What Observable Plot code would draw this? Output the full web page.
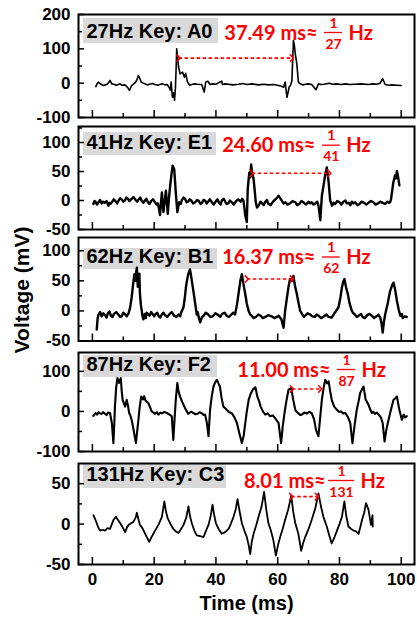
<!DOCTYPE html>
<html><head><meta charset="utf-8">
<script src="https://cdn.jsdelivr.net/npm/d3@7"></script>
<script src="https://cdn.jsdelivr.net/npm/@observablehq/plot@0.6"></script>
<style>
body{margin:0;background:#fff;}
#chart{position:relative;width:417px;height:617px;overflow:hidden;background:#fff;}
#ylab{position:absolute;left:22px;top:290px;transform:translate(-50%,-50%) rotate(-90deg);font:bold 21px "Liberation Sans",Arial,sans-serif;white-space:nowrap;color:#000;}
</style></head><body>
<div id="chart"><div id="ylab">Voltage (mV)</div></div>
<script>
// ---------------- data ----------------
const keyLabels = ["27Hz Key: A0", "41Hz Key: E1", "62Hz Key: B1", "87Hz Key: F2", "131Hz Key: C3"];
const periodTexts = ["37.49 ms≈", "24.60 ms≈", "16.37 ms≈", "11.00 ms≈", "8.01 ms≈"];
const freqs = ["27", "41", "62", "87", "131"];
const arrowFrom = [27.9, 51.6, 50.0, 64.6, 64.4];
const arrowTo = [64.6, 76.7, 64.6, 73.8, 72.7];
const arrowLevel = [73, 47, 53, 56, 34];
const timeMajor = [0, 20, 40, 60, 80, 100];
const timeMinor = [10, 30, 50, 70, 90];
const yMajor27 = [-100, 0, 100, 200], yMinor27 = [-50, 50, 150];
const yMajor41 = [-50, 0, 50, 100], yMinor41 = [-25, 25, 75, 125];
const yMajor62 = [-50, 0, 50, 100], yMinor62 = [-25, 25, 75];
const yMajor87 = [-100, 0, 100], yMinor87 = [-50, 50];
const yMajor131 = [-50, 0, 50], yMinor131 = [-25, 25];

const wave27 = [[1.1,-10],[1.5,-2],[1.9,3],[2.4,-1],[3,-4],[3.5,-7],[4.1,-5],[4.8,-3],[5.3,2],[5.7,8],[6.3,-2],[7,-3],[7.7,-6],[8.4,-4],[9,-2],[9.5,-6],[10.5,-5],[11.4,-12],[12,-21],[12.7,-7],[13.3,-3],[14,3],[14.5,12],[14.9,22],[15.3,15],[15.8,3],[17,-2],[17.8,-5],[18.5,-3],[19.4,-1],[20.3,-4],[21.2,-6],[22,-3],[22.8,-2],[23.5,-5],[24.3,-4],[24.8,-12],[25.2,-20],[25.5,3],[25.9,-41],[26.3,-28],[26.6,-50],[26.9,-12],[27.1,40],[27.3,100],[27.6,72],[27.9,47],[28.4,27],[29.2,32],[29.8,17],[30.2,29],[30.8,3],[31.5,-6],[32.2,-4],[33.1,-2],[34,-3],[35.4,-4],[36.2,-26],[36.7,3],[37.4,6],[38.1,-4],[39,-2],[40,-3],[41.9,6],[42.1,-4],[43,-2],[44,-3],[45.5,-5],[47.3,-3],[48.6,-1],[50,-4],[51.8,-2],[53.8,-5],[55.5,-3],[57,-5],[58.8,-4],[60.3,-7],[61.2,-9],[61.9,-12],[62.4,3],[63,-41],[63.4,-25],[63.7,-12],[64.2,-5],[64.6,8],[65.1,124],[65.4,110],[65.7,85],[66.2,56],[66.7,3],[67.3,-2],[68.2,-5],[69,-3],[70,-2],[71,-4],[72.4,-19],[73.2,-2],[74,-4],[75,-3],[76.7,0],[77.8,-3],[79,-2],[80.5,-4],[81.9,-2],[83.4,-4],[85,-3],[87,-2],[89.4,-4],[90.8,-2],[92,-3],[93.2,0],[94,13],[94.8,-4],[96,-6],[97,-5],[98.5,-6],[100,-7]];

const wave41 = [[0.3,-6],[0.7,-1],[1,-2],[1.5,-7],[2,-3],[2.5,1],[3,-5],[3.5,-2],[4,-4],[4.6,-1],[5.2,-9],[5.5,-4],[5.8,-6],[6.3,-3],[6.9,2],[7.5,-1],[8,-5],[8.5,0],[9,4],[9.5,2],[10,-2],[10.5,0],[11,5],[11.5,3],[12,-1],[12.7,3],[13.3,6],[14,1],[14.5,-2],[15,2],[15.5,5],[16,-1],[16.5,-4],[17,0],[17.5,3],[18,-3],[18.5,-6],[19,-1],[19.6,2],[20.3,-3],[20.8,-7],[21.2,-5],[21.6,-15],[21.9,-25],[22.2,-5],[22.5,14],[23,-20],[23.8,17],[24.4,-23],[24.8,5],[25.2,26],[25.6,45],[26,60],[26.5,54],[27,14],[27.5,-20],[28.1,-3],[28.6,-6],[29,1],[29.5,5],[30,3],[30.5,-3],[31,-2],[31.5,2],[32,0],[32.6,-5],[33.3,-3],[33.9,1],[34.5,-1],[35,-6],[35.5,-4],[36,1],[36.5,0],[37,-5],[37.5,-2],[38,2],[38.7,-3],[39.3,-7],[40,-1],[40.5,2],[41,-4],[41.5,-7],[41.9,0],[42.5,3],[43,-2],[43.5,-6],[44,-5],[44.5,0],[45.1,-3],[45.8,-7],[46.5,-1],[47.2,2],[48,-2],[48.5,3],[48.9,0],[49.2,-12],[49.5,-26],[50,-37],[50.3,20],[50.8,48],[51.1,40],[51.4,62],[51.8,45],[52.2,37],[52.6,15],[52.9,-3],[53.3,-12],[53.8,-9],[54.4,-2],[55,-5],[55.5,-8],[55.9,-3],[56.5,1],[57,-6],[57.7,-8],[58.5,-2],[59,1],[59.5,3],[60.3,8],[60.8,4],[61.3,0],[61.9,-5],[62.5,-3],[63.2,-7],[64,-5],[64.8,-1],[65.7,-3],[66.3,-8],[67,-6],[67.7,-1],[68.5,-4],[69.2,-7],[70,-2],[70.5,-5],[71,-3],[71.6,-7],[72.2,-5],[72.8,-2],[73.2,-9],[73.5,-20],[73.8,-34],[74.3,8],[75,31],[75.4,45],[75.9,57],[76.2,45],[76.5,31],[77,0],[77.6,-9],[78.1,-4],[78.6,-6],[79.3,-1],[80,-3],[80.6,-7],[81.3,-2],[81.9,0],[82.4,-5],[83,-4],[83.5,-8],[84,-2],[84.5,-5],[85.1,-3],[85.8,-8],[86.5,-6],[87.2,-2],[88,-4],[88.7,-7],[89.4,-4],[90.2,-1],[91,-3],[91.7,-7],[92.5,-5],[93.2,-2],[94,-4],[94.8,-6],[95.5,-2],[96,-4],[96.4,-3],[96.7,2],[97,14],[97.4,30],[98,43],[98.3,38],[98.6,51],[99,40],[99.4,26]];

const wave62 = [[1.4,-31],[1.7,-12],[2,-6],[2.5,-2],[3,-9],[3.5,-4],[4.1,-7],[4.6,-11],[5,-4],[5.5,-1],[6,-8],[6.5,-10],[7,-5],[7.7,-2],[8.4,-6],[9,-10],[9.5,-9],[10,-3],[10.5,-5],[11.1,-9],[11.7,-4],[12.2,5],[12.7,22],[13.2,45],[13.6,61],[14,50],[14.2,65],[14.4,72],[14.7,40],[14.9,50],[15.2,62],[15.4,28],[15.7,10],[16,0],[16.2,-8],[16.5,-14],[17,-5],[17.3,-12],[17.6,-3],[18.1,-6],[18.5,-8],[19,-2],[19.5,-5],[20,-9],[20.3,-6],[21,-3],[21.5,-9],[22,-11],[22.5,-6],[23,-3],[23.5,-7],[24.2,-10],[25,-5],[25.7,-2],[26.5,-8],[27.2,-10],[27.9,-6],[28.4,-9],[28.8,-2],[29.5,6],[30,25],[30.3,40],[30.6,50],[31.1,62],[31.6,69],[31.9,60],[32.2,50],[32.7,33],[33.2,15],[33.8,-6],[34.1,-2],[34.4,-10],[34.9,-19],[35.5,-10],[36,-8],[36.7,-3],[37.5,-6],[38.2,-10],[39,-9],[39.8,-4],[40.8,-7],[41.4,-10],[42,-5],[42.8,-3],[43.5,-8],[44.2,-10],[45,-6],[45.6,-3],[46.2,-6],[46.8,10],[47.3,28],[47.9,50],[48.4,61],[48.9,45],[49.5,28],[50,12],[50.6,0],[51.1,-6],[51.6,-8],[52.2,-12],[53,-10],[53.7,-6],[54.5,-8],[55.2,-12],[56,-10],[57,-7],[58,-9],[59,-12],[60.3,-8],[61.2,-14],[61.9,-28],[62.4,0],[63,22],[63.5,40],[64,53],[64.6,50],[65.1,58],[65.6,42],[66.2,28],[66.8,12],[67.3,0],[68,-6],[68.5,-10],[68.9,-8],[69.7,-4],[70.5,-6],[71.2,-9],[72,-10],[72.6,-6],[73.2,-8],[74.1,-12],[75,-9],[75.8,-6],[76.5,-10],[77.5,-11],[78.5,-3],[79.7,6],[80.3,22],[80.8,39],[81.2,48],[81.6,53],[82.1,40],[82.7,28],[83.3,12],[84,0],[84.5,-4],[85,-6],[85.6,-10],[86.2,-8],[87,-5],[87.5,-10],[88.2,-12],[89,-7],[89.7,-5],[90.5,-8],[91.2,-12],[92,-9],[92.6,-6],[93.2,-11],[93.6,-20],[94,-36],[94.4,-18],[94.8,-6],[95.6,12],[96.4,33],[97,42],[97.5,47],[98,36],[98.6,17],[99.2,2],[99.7,-8],[100.2,-5],[100.5,-12],[101.2,-9],[101.8,-10]];

const wave87 = [[0.3,-11],[1,-4],[1.5,-8],[2,-2],[2.5,-5],[3,-6],[3.5,-2],[4.1,-6],[4.6,-9],[5,-3],[5.7,-4],[6.3,-29],[6.8,-79],[7.1,-30],[7.3,12],[7.7,60],[8.1,83],[8.6,71],[9.2,83],[9.5,50],[9.8,29],[10.2,20],[10.6,12],[11.1,29],[11.5,15],[11.9,-4],[12.3,-10],[12.7,-21],[13.2,-40],[13.6,-58],[14.1,-79],[14.5,-50],[14.9,-21],[15.3,10],[15.8,37],[16.4,30],[16.8,38],[17.1,29],[17.6,24],[18.1,21],[18.6,12],[19.2,0],[19.8,-3],[20.3,-6],[20.9,-2],[21.4,-8],[22,-3],[22.5,-5],[23.3,-1],[24.1,-4],[25,-8],[25.7,-12],[26.2,-71],[26.6,-20],[27,29],[27.5,71],[27.9,50],[28.4,37],[29,25],[29.5,17],[30,8],[30.6,0],[31,-6],[31.5,-3],[32.1,-1],[32.7,-4],[33.4,-7],[34,-6],[34.7,-2],[35.5,-5],[36,-9],[36.5,-8],[37.1,-30],[37.6,-62],[38.1,4],[38.6,35],[39.2,62],[39.7,72],[40.3,79],[40.8,70],[41.3,62],[41.8,35],[42.4,12],[43,8],[43.5,4],[44.3,-2],[45.1,-4],[46,-15],[46.8,-29],[47.6,-55],[48.4,-79],[49,-60],[49.5,-29],[50,0],[50.6,29],[51.3,45],[52,55],[52.8,60],[53.4,37],[54,25],[54.5,12],[55.2,0],[56,-8],[56.8,-5],[57.5,-12],[58.4,-10],[59.2,-17],[60.3,-29],[60.7,-55],[61.1,-79],[61.6,-40],[62.2,-4],[62.8,25],[63.5,54],[64.4,58],[65,30],[65.7,4],[66.2,-2],[66.8,-5],[67.3,-9],[67.8,-8],[68.6,-3],[69.5,-5],[70.2,-1],[71,-4],[71.8,-20],[72.4,-46],[73.2,-62],[73.7,-20],[74.3,29],[74.9,60],[75.4,79],[76,70],[76.5,75],[77,50],[77.5,29],[78.3,12],[79.2,4],[79.8,-1],[80.5,0],[81.2,-5],[81.9,-4],[82.8,-15],[83.5,-29],[84.2,-79],[84.9,-35],[85.6,4],[86.2,25],[86.7,46],[87.3,55],[87.8,62],[88.5,29],[89.4,17],[90,4],[90.5,-4],[91,-1],[91.5,-6],[92.1,-3],[92.7,-8],[93.4,-15],[94,-29],[94.6,-75],[95.2,-45],[95.9,-21],[96.7,5],[97.5,29],[98.1,33],[98.6,37],[99,20],[99.4,4],[100.2,-21],[100.8,-8],[101.3,-15],[101.8,-12]];

const wave131 = [[0.3,11],[0.8,7],[1.4,1],[2,-5],[2.5,-8],[3.3,-7],[4.1,-8],[4.9,-5],[5.7,-6],[6.3,0],[6.8,5],[7.6,9],[8.3,5],[9,1],[9.8,-4],[10.6,-10],[11.2,-4],[11.7,-1],[12.5,1],[13.3,3],[14,8],[14.4,14],[14.9,6],[15.4,-1],[16.2,-5],[17.1,-12],[18.4,-22],[19.3,-15],[20.3,-8],[21.5,0],[22.5,9],[23.3,28],[23.8,16],[24.4,7],[25.3,0],[26.2,-6],[27,-9],[27.9,-11],[28.7,-6],[29.5,-1],[30.4,8],[31.1,22],[31.6,10],[32.2,1],[33,-8],[33.8,-14],[34.9,-15],[36,-16],[36.8,-8],[37.6,-1],[38.3,10],[38.9,24],[39.4,12],[40,1],[41,-7],[41.9,-12],[43,-10],[44.1,-6],[44.9,1],[45.7,9],[46.4,18],[47,31],[47.7,15],[48.4,1],[49.2,-8],[50,-16],[50.6,-26],[51.1,-37],[51.6,-22],[52.2,-12],[53,-2],[53.8,9],[54.8,22],[55.6,40],[56.3,18],[57,1],[57.8,-8],[58.6,-20],[59.4,-39],[60.1,-26],[60.8,-16],[61.6,-6],[62.4,5],[63.4,18],[64.4,35],[65,16],[65.7,1],[66.7,-12],[67.6,-33],[68.2,-24],[68.9,-16],[70,-6],[71,5],[72.2,20],[73.2,38],[74,22],[74.8,9],[75.9,-3],[76.7,-14],[77.5,-24],[78.4,-16],[79.2,-8],[80,0],[80.8,9],[81.6,28],[82.2,10],[82.9,-3],[83.8,-6],[84.6,-8],[85.4,-9],[86.2,-12],[86.8,-3],[87.3,5],[88,14],[88.6,26],[89.4,18],[90.2,-1],[90.7,11],[90.8,-3]];

// ---------------- layout ----------------
const XDOM = [-4.5, 104.3];
const W = 417, ML = 78, MR = 3, FW = W - ML - MR;
const panels = [
  {wave: wave27, major: yMajor27, minor: yMinor27, top: 14, h: 103, dom: [-100, 200], sw: 1.6, boxTop: 4, boxH: 25, boxW: 135, labBase: 23, annX: 72.9, annBase: 25},
  {wave: wave41, major: yMajor41, minor: yMinor41, top: 126, h: 103, dom: [-50, 127.6], sw: 2.4, boxTop: 6, boxH: 23, boxW: 133, labBase: 22, annX: 72.2, annBase: 25.7},
  {wave: wave62, major: yMajor62, minor: yMinor62, top: 236.5, h: 103.5, dom: [-50, 122], sw: 2.4, boxTop: 11, boxH: 21, boxW: 134, labBase: 25, annX: 72.2, annBase: 26.5},
  {wave: wave87, major: yMajor87, minor: yMinor87, top: 352, h: 99, dom: [-100, 147], sw: 2.1, boxTop: 3, boxH: 22, boxW: 134, labBase: 18, annX: 77.1, annBase: 24},
  {wave: wave131, major: yMajor131, minor: yMinor131, top: 463, h: 101, dom: [-50, 75], sw: 1.8, boxTop: 1, boxH: 24, boxW: 143, labBase: 17, annX: 75.5, annBase: 24}
];
const RED = "#ff0000";
const annFont = "Lato, 'Open Sans', sans-serif";
const chart = document.getElementById("chart");
const px = (x) => ML + (x - XDOM[0]) * FW / (XDOM[1] - XDOM[0]);

panels.forEach((p, i) => {
  const last = i === panels.length - 1;
  const mT = 3, mB = last ? 617 - (p.top + p.h) : 3;
  const rows = p.wave.map(([t, v]) => ({t, v}));
  const three = freqs[i].length > 2;
  const fracDx = 16, hzDx = three ? 35 : 31, barHalf = three ? 13 : 9;
  const ann = [{x: p.annX}];
  const marks = [
    Plot.line(rows, {x: "t", y: "v", stroke: "black", strokeWidth: p.sw, strokeLinejoin: "round"}),
    Plot.frame({stroke: "black", strokeWidth: 2}),
    Plot.tickY(p.major, {insetRight: FW - 6, stroke: "black", strokeWidth: 1.5}),
    Plot.tickY(p.minor, {insetRight: FW - 4, stroke: "black", strokeWidth: 1.5}),
    Plot.tickX(timeMajor, {insetTop: p.h - 7, stroke: "black", strokeWidth: 1.5}),
    Plot.tickX(timeMinor, {insetTop: p.h - 4, stroke: "black", strokeWidth: 1.5}),
    Plot.axisY({ticks: p.major, label: null, tickSize: 0, tickPadding: 8, tickFormat: (d) => String(d), fontSize: 17, fontWeight: "bold"}),
    Plot.link([i], {x1: (k) => arrowFrom[k], x2: (k) => arrowTo[k], y1: (k) => arrowLevel[k], y2: (k) => arrowLevel[k],
      stroke: RED, strokeWidth: 1.6, strokeDasharray: "3.5,2.5", markerStart: "arrow", markerEnd: "arrow"}),
    Plot.text([keyLabels[i]], {frameAnchor: "top-left", dx: 8, dy: p.labBase, lineAnchor: "bottom", textAnchor: "start",
      text: (d) => d, fontSize: 20, fontWeight: "bold", fill: "black"}),
    Plot.text(ann, {x: "x", frameAnchor: "top", dy: p.annBase, lineAnchor: "bottom", textAnchor: "end",
      text: () => periodTexts[i], fill: RED, fontSize: 20, fontWeight: "bold", fontFamily: annFont}),
    Plot.text(ann, {x: "x", frameAnchor: "top", dx: fracDx, dy: p.annBase - 12, lineAnchor: "bottom", textAnchor: "middle",
      text: () => "1", fill: RED, fontSize: 14, fontWeight: "bold", fontFamily: annFont}),
    Plot.text(ann, {x: "x", frameAnchor: "top", dx: fracDx, dy: p.annBase + 9, lineAnchor: "bottom", textAnchor: "middle",
      text: () => freqs[i], fill: RED, fontSize: 14, fontWeight: "bold", fontFamily: annFont}),
    Plot.text(ann, {x: "x", frameAnchor: "top", dx: hzDx, dy: p.annBase, lineAnchor: "bottom", textAnchor: "start",
      text: () => "Hz", fill: RED, fontSize: 20, fontWeight: "bold", fontFamily: annFont})
  ];
  if (last) {
    marks.push(
      Plot.axisX({ticks: timeMajor, label: null, tickSize: 0, tickPadding: 8, tickFormat: (d) => String(d), fontSize: 17, fontWeight: "bold"}),
      Plot.text(["Time (ms)"], {frameAnchor: "bottom", dy: 45, lineAnchor: "bottom", text: (d) => d, fontSize: 20, fontWeight: "bold", fill: "black"})
    );
  }
  const svg = Plot.plot({
    width: W, height: mT + p.h + mB,
    marginLeft: ML, marginRight: MR, marginTop: mT, marginBottom: mB,
    x: {domain: XDOM, label: null, axis: last ? undefined : null},
    y: {domain: p.dom, label: null},
    style: {background: "transparent", overflow: "visible", fontFamily: "'Liberation Sans', Arial, sans-serif", color: "black"},
    marks
  });
  svg.style.position = "absolute";
  svg.style.left = "0px";
  svg.style.top = (p.top - mT) + "px";
  // grey label box behind everything
  const ns = "http://www.w3.org/2000/svg";
  const rect = document.createElementNS(ns, "rect");
  rect.setAttribute("x", ML + 5);
  rect.setAttribute("y", mT + p.boxTop);
  rect.setAttribute("width", p.boxW);
  rect.setAttribute("height", p.boxH);
  rect.setAttribute("fill", "#d9d9d9");
  const st = svg.querySelector("style");
  svg.insertBefore(rect, st ? st.nextSibling : svg.firstChild);
  // fraction bar
  d3.select(svg).append("line")
    .attr("x1", px(p.annX) + fracDx - barHalf).attr("x2", px(p.annX) + fracDx + barHalf)
    .attr("y1", mT + p.annBase - 6.5).attr("y2", mT + p.annBase - 6.5)
    .attr("stroke", RED).attr("stroke-width", 1.3);
  // solid arrow heads
  d3.select(svg).selectAll("marker path").attr("stroke-dasharray", "none");
  chart.appendChild(svg);
});
</script>
</body></html>
